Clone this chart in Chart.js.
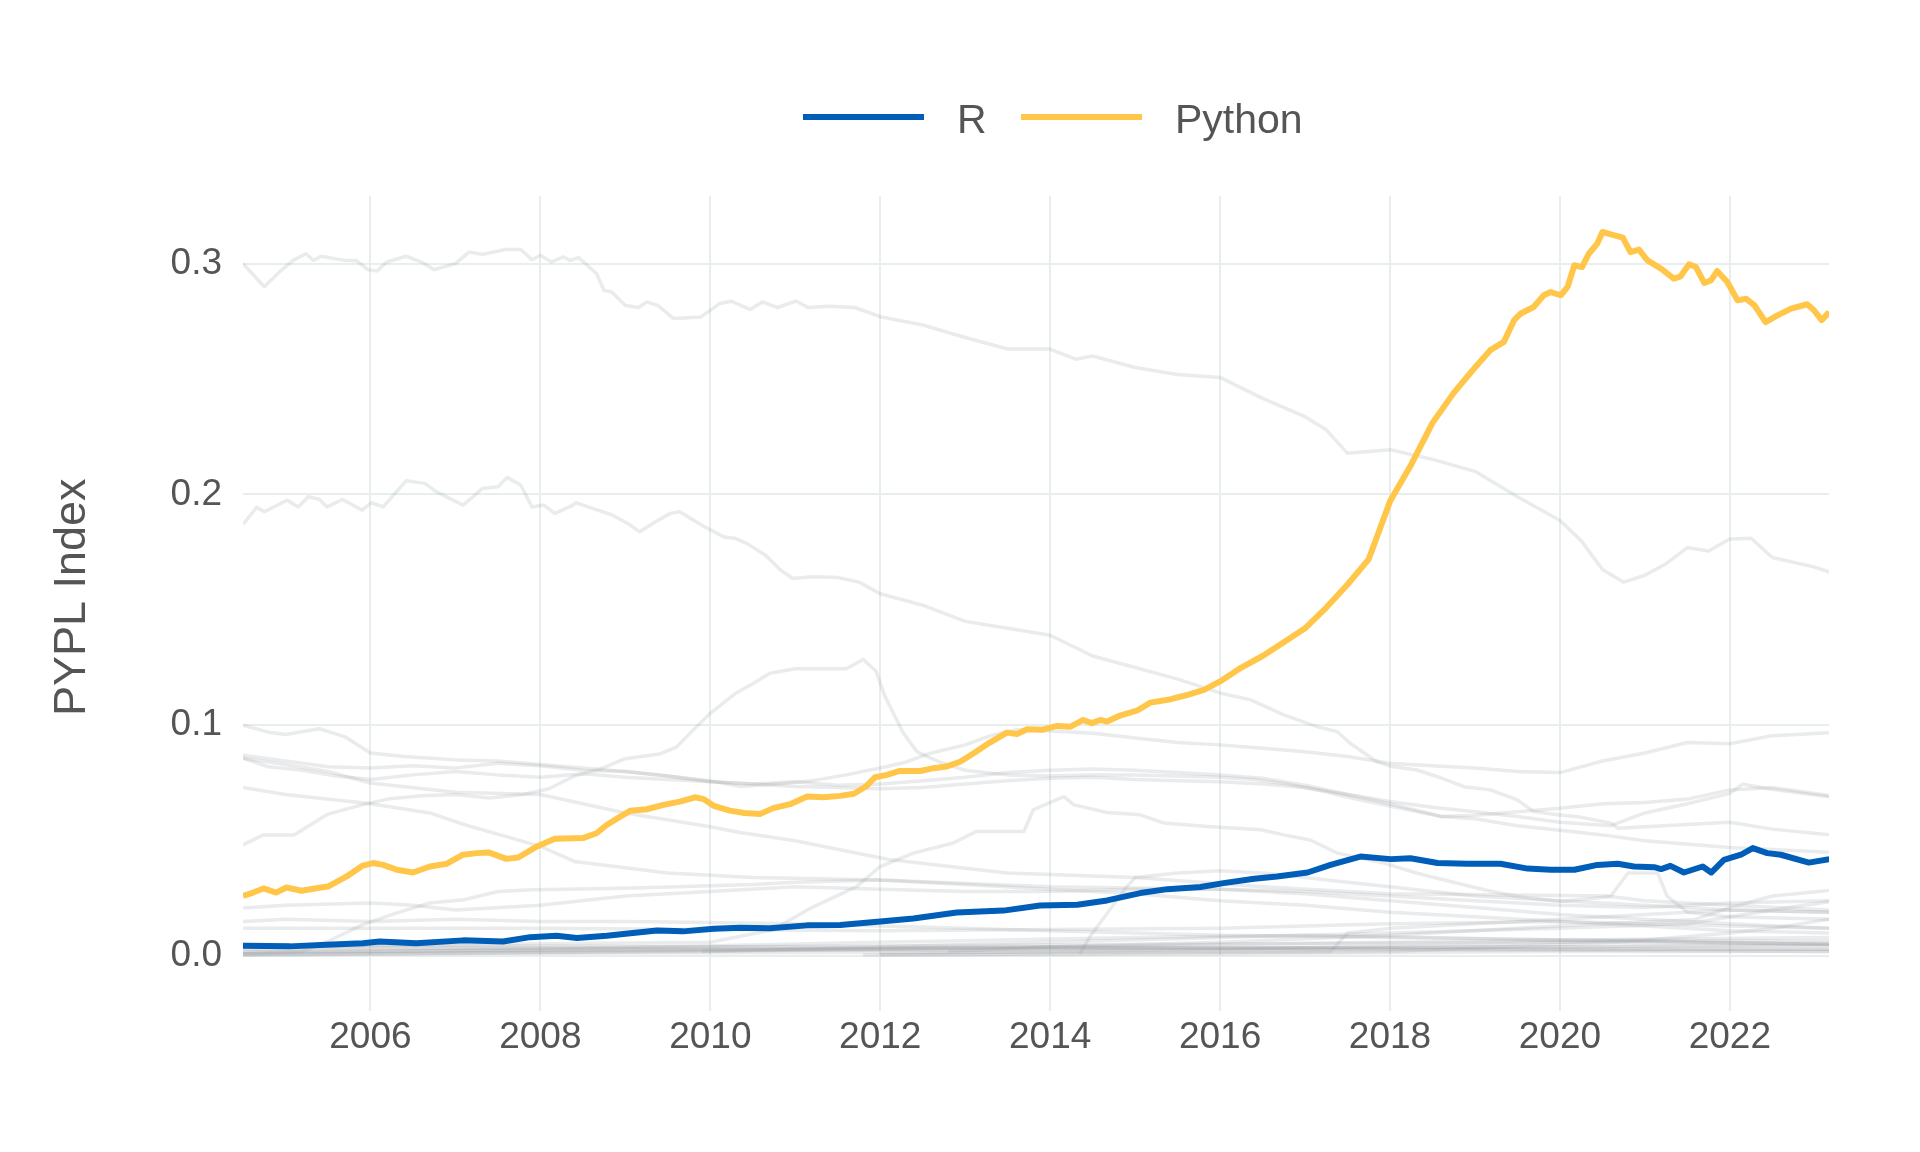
<!DOCTYPE html>
<html>
<head>
<meta charset="utf-8">
<script src="https://cdn.jsdelivr.net/npm/chart.js@4.4.0/dist/chart.umd.min.js"></script>
<style>
  html, body { margin: 0; padding: 0; background: #fff; }
  #wrap { position: relative; width: 1920px; height: 1152px; font-family: "Liberation Sans", Arial, sans-serif; }
  #chart { position: absolute; left: 0; top: 0; }
  .key { position: absolute; top: 114px; height: 6px; width: 121px; }
  .lab { position: absolute; top: 99px; font-size: 41px; line-height: 41px; color: #555; white-space: nowrap; }
</style>
</head>
<body>
<div id="wrap">
  <canvas id="chart" width="1920" height="1152"></canvas>
  <!-- legend, only the two highlighted languages -->
  <div class="key" style="left:803px;background:#005EB8"></div>
  <div class="lab" style="left:957px">R</div>
  <div class="key" style="left:1021px;background:#FFC649"></div>
  <div class="lab" style="left:1175px">Python</div>
</div>
<script>
// axis ticks
const xTicks = [2006, 2008, 2010, 2012, 2014, 2016, 2018, 2020, 2022];
const yTicks = [0.0, 0.1, 0.2, 0.3];

// highlighted series: [year, share]
const python = [[2004.50,.0261],[2004.62,.0275],[2004.74,.0293],[2004.89,.0275],[2005.01,.0297],[2005.19,.0283],[2005.36,.0294],[2005.50,.0301],[2005.72,.0345],[2005.91,.0392],[2006.03,.0403],[2006.15,.0395],[2006.31,.0374],[2006.50,.0362],[2006.70,.0388],[2006.90,.0400],[2007.09,.0439],[2007.25,.0446],[2007.39,.0449],[2007.60,.0421],[2007.74,.0427],[2007.96,.0475],[2008.17,.0508],[2008.50,.0511],[2008.66,.0532],[2008.78,.0568],[2008.94,.0604],[2009.06,.0630],[2009.25,.0636],[2009.45,.0655],[2009.64,.0669],[2009.82,.0688],[2009.92,.0680],[2010.04,.0651],[2010.23,.0630],[2010.40,.0620],[2010.59,.0616],[2010.74,.0641],[2010.94,.0658],[2011.14,.0691],[2011.33,.0688],[2011.53,.0694],[2011.69,.0703],[2011.84,.0737],[2011.94,.0775],[2012.08,.0785],[2012.23,.0802],[2012.47,.0802],[2012.63,.0814],[2012.78,.0821],[2012.94,.0842],[2013.10,.0879],[2013.29,.0925],[2013.49,.0968],[2013.61,.0962],[2013.73,.0983],[2013.90,.0980],[2014.08,.0997],[2014.24,.0994],[2014.39,.1023],[2014.49,.1009],[2014.59,.1023],[2014.67,.1016],[2014.83,.1043],[2015.02,.1063],[2015.18,.1098],[2015.42,.1113],[2015.61,.1131],[2015.81,.1153],[2016.00,.119],[2016.25,.125],[2016.50,.130],[2016.75,.136],[2017.00,.142],[2017.25,.151],[2017.50,.161],[2017.75,.172],[2018.00,.197],[2018.25,.213],[2018.50,.231],[2018.75,.244],[2019.00,.255],[2019.18,.2625],[2019.34,.2661],[2019.46,.2755],[2019.54,.2784],[2019.69,.2812],[2019.81,.2863],[2019.89,.2877],[2020.01,.2863],[2020.09,.2899],[2020.17,.2993],[2020.26,.2985],[2020.34,.3043],[2020.44,.3087],[2020.50,.3137],[2020.60,.3127],[2020.74,.3113],[2020.83,.3050],[2020.93,.3061],[2021.03,.3014],[2021.19,.2978],[2021.34,.2935],[2021.42,.2945],[2021.52,.2997],[2021.60,.2985],[2021.70,.2916],[2021.78,.2928],[2021.85,.2968],[2021.97,.2920],[2022.09,.2841],[2022.19,.2848],[2022.29,.2819],[2022.42,.2747],[2022.56,.2776],[2022.72,.2805],[2022.91,.2824],[2022.99,.2798],[2023.08,.2755],[2023.17,.2790]];

const rLang = [[2004.50,.0045],[2005.05,.0042],[2005.48,.0049],[2005.91,.0056],[2006.11,.0063],[2006.54,.0056],[2007.09,.0068],[2007.56,.0063],[2007.88,.0082],[2008.19,.0088],[2008.43,.0078],[2008.78,.0088],[2009.37,.0111],[2009.68,.0107],[2010.04,.0118],[2010.35,.0123],[2010.70,.0121],[2011.14,.0133],[2011.53,.0135],[2012.00,.0150],[2012.39,.0163],[2012.90,.0189],[2013.45,.0197],[2013.88,.0219],[2014.32,.0222],[2014.67,.0241],[2015.06,.0273],[2015.38,.0290],[2015.77,.0299],[2016.04,.0316],[2016.40,.0335],[2016.67,.0345],[2017.03,.0362],[2017.30,.0395],[2017.65,.0431],[2018.01,.0420],[2018.24,.0424],[2018.56,.0403],[2018.91,.0400],[2019.30,.0400],[2019.62,.0379],[2019.89,.0374],[2020.17,.0374],[2020.44,.0395],[2020.68,.0400],[2020.87,.0388],[2021.11,.0385],[2021.19,.0377],[2021.30,.0391],[2021.46,.0362],[2021.68,.0388],[2021.78,.0362],[2021.93,.0417],[2022.13,.0439],[2022.27,.0468],[2022.44,.0446],[2022.60,.0439],[2022.93,.0405],[2023.17,.0420]];

// background languages
const java = [[2004.50,.300],[2004.75,.290],[2004.93,.2964],[2005.09,.3014],[2005.24,.3043],[2005.33,.3014],[2005.42,.3032],[2005.70,.3014],[2005.83,.3014],[2005.97,.2974],[2006.08,.2968],[2006.19,.3007],[2006.42,.3032],[2006.60,.3007],[2006.75,.2974],[2007.00,.3000],[2007.16,.3050],[2007.32,.3040],[2007.59,.3061],[2007.77,.3061],[2007.90,.3017],[2008.00,.3036],[2008.13,.3007],[2008.27,.3029],[2008.35,.3014],[2008.45,.3026],[2008.66,.2957],[2008.75,.2884],[2008.84,.2877],[2009.00,.2819],[2009.16,.2810],[2009.25,.2834],[2009.38,.2819],[2009.57,.2762],[2009.89,.2769],[2010.11,.2827],[2010.25,.2837],[2010.47,.2801],[2010.61,.2834],[2010.79,.2810],[2011.01,.2838],[2011.15,.2810],[2011.40,.2815],[2011.70,.281],[2012.00,.277],[2012.50,.2734],[2013.00,.268],[2013.50,.263],[2014.00,.263],[2014.30,.2586],[2014.50,.260],[2015.00,.255],[2015.50,.252],[2016.00,.2507],[2016.50,.2416],[2017.00,.2337],[2017.25,.228],[2017.50,.2178],[2018.00,.2194],[2018.50,.2152],[2019.00,.210],[2019.50,.199],[2020.00,.1887],[2020.25,.180],[2020.50,.1675],[2020.75,.162],[2021.00,.165],[2021.25,.170],[2021.50,.177],[2021.75,.1755],[2022.00,.1807],[2022.25,.181],[2022.50,.1727],[2023.00,.1685],[2023.17,.1664]];
const php = [[2004.50,.187],[2004.66,.1944],[2004.75,.1925],[2005.02,.1975],[2005.15,.1946],[2005.27,.1990],[2005.40,.1978],[2005.49,.1946],[2005.67,.1978],[2005.79,.1954],[2005.90,.1932],[2006.01,.1964],[2006.15,.1946],[2006.42,.2059],[2006.64,.2048],[2006.78,.2011],[2006.93,.1983],[2007.09,.1954],[2007.32,.2026],[2007.50,.2033],[2007.61,.2074],[2007.77,.2040],[2007.90,.1946],[2008.04,.1954],[2008.17,.1918],[2008.36,.1949],[2008.42,.1964],[2008.58,.1944],[2008.85,.1910],[2009.03,.1874],[2009.17,.1838],[2009.35,.1881],[2009.53,.1918],[2009.64,.1925],[2009.93,.1860],[2010.16,.1816],[2010.29,.1810],[2010.43,.1788],[2010.65,.1737],[2010.83,.1672],[2010.97,.1636],[2011.20,.1643],[2011.50,.164],[2011.75,.162],[2012.00,.157],[2012.50,.152],[2013.00,.145],[2013.50,.142],[2014.00,.139],[2014.50,.130],[2015.00,.125],[2015.50,.120],[2016.00,.114],[2016.36,.111],[2016.75,.1045],[2017.14,.0994],[2017.38,.0972],[2017.53,.0922],[2017.85,.0841],[2018.01,.0822],[2018.32,.0806],[2018.56,.0777],[2018.87,.0734],[2019.18,.0720],[2019.50,.0677],[2019.69,.0626],[2019.97,.0612],[2020.21,.0604],[2020.60,.0576],[2020.68,.0554],[2021.00,.056],[2021.50,.057],[2022.00,.058],[2022.50,.055],[2023.17,.0525]];
const cpp = [[2004.50,.100],[2004.80,.097],[2005.00,.096],[2005.40,.0985],[2005.70,.095],[2006.00,.088],[2006.40,.0865],[2007.00,.085],[2007.50,.0845],[2008.00,.083],[2008.50,.0815],[2009.00,.080],[2009.50,.078],[2010.00,.0755],[2010.50,.0745],[2011.00,.0735],[2011.50,.073],[2012.00,.0725],[2012.50,.073],[2013.00,.0745],[2013.50,.076],[2014.00,.077],[2014.50,.0775],[2015.00,.0765],[2015.50,.076],[2016.00,.0755],[2016.50,.0745],[2017.00,.073],[2017.50,.070],[2018.00,.067],[2018.50,.0645],[2019.00,.0625],[2019.50,.0605],[2020.00,.058],[2020.60,.0565],[2021.00,.062],[2021.50,.066],[2022.00,.0705],[2022.15,.0745],[2022.45,.0725],[2023.17,.069]];
const csharp = [[2004.50,.087],[2004.80,.0855],[2005.20,.0835],[2005.50,.082],[2006.00,.0815],[2006.50,.0825],[2007.00,.0815],[2007.50,.0835],[2008.00,.0825],[2008.50,.0805],[2009.00,.080],[2009.50,.078],[2010.00,.076],[2010.35,.0735],[2010.80,.0745],[2011.20,.076],[2011.60,.0785],[2012.00,.0815],[2012.30,.084],[2012.60,.088],[2013.00,.0915],[2013.30,.0955],[2013.60,.098],[2014.00,.0975],[2014.50,.0965],[2015.00,.0945],[2015.50,.0925],[2016.00,.0915],[2016.50,.090],[2017.00,.0885],[2017.50,.0865],[2018.00,.0835],[2018.50,.0825],[2019.00,.0815],[2019.50,.080],[2020.00,.0795],[2020.50,.0845],[2021.00,.088],[2021.50,.0925],[2022.00,.092],[2022.50,.0955],[2023.17,.0968]];
const js = [[2004.50,.0857],[2004.80,.082],[2005.20,.0805],[2005.60,.078],[2006.00,.0765],[2006.50,.0785],[2007.00,.080],[2007.50,.0785],[2008.00,.0775],[2008.50,.079],[2009.00,.0775],[2009.50,.0765],[2010.00,.0755],[2010.50,.0745],[2011.00,.0755],[2011.50,.074],[2012.00,.0745],[2012.50,.076],[2013.00,.0775],[2013.50,.0795],[2014.00,.0805],[2014.50,.081],[2015.00,.0805],[2015.50,.0795],[2016.00,.0785],[2016.50,.077],[2017.00,.074],[2017.50,.070],[2018.00,.066],[2018.60,.0605],[2019.00,.061],[2019.50,.0625],[2020.00,.064],[2020.50,.066],[2021.00,.0665],[2021.50,.068],[2022.00,.072],[2022.50,.073],[2023.17,.0695]];
const objc = [[2004.50,.0482],[2004.74,.0525],[2005.10,.0525],[2005.30,.057],[2005.50,.0615],[2005.90,.0655],[2006.20,.068],[2006.60,.0695],[2007.00,.070],[2007.40,.0685],[2007.80,.070],[2008.10,.0725],[2008.40,.078],[2008.70,.081],[2009.00,.0855],[2009.40,.0875],[2009.60,.0905],[2009.80,.098],[2010.00,.1052],[2010.30,.1139],[2010.50,.118],[2010.70,.1225],[2011.00,.1245],[2011.30,.1245],[2011.60,.1245],[2011.80,.1285],[2011.95,.1235],[2012.05,.113],[2012.27,.0967],[2012.43,.0886],[2012.70,.084],[2013.00,.0805],[2013.50,.0785],[2014.00,.078],[2014.50,.0785],[2015.00,.0785],[2015.50,.078],[2016.00,.0775],[2016.40,.0765],[2016.80,.0745],[2017.20,.0715],[2017.60,.068],[2018.00,.065],[2018.60,.0605],[2019.00,.0595],[2019.50,.0565],[2020.00,.0545],[2020.50,.0525],[2021.00,.050],[2022.00,.047],[2023.17,.045]];
const perl = [[2004.50,.073],[2005.00,.070],[2006.00,.066],[2006.70,.062],[2007.10,.057],[2008.00,.0475],[2008.40,.041],[2009.50,.036],[2010.50,.034],[2012.00,.033],[2014.00,.030],[2016.00,.029],[2017.00,.027],[2018.00,.024],[2019.00,.021],[2020.00,.018],[2021.00,.016],[2022.00,.014],[2023.17,.012]];
const vb = [[2004.50,.0857],[2005.00,.083],[2005.50,.080],[2006.00,.075],[2007.00,.071],[2008.00,.070],[2009.00,.062],[2010.00,.056],[2010.35,.0535],[2011.00,.050],[2012.10,.0418],[2013.00,.038],[2013.50,.036],[2015.00,.034],[2016.50,.030],[2018.00,.027],[2020.60,.026],[2020.80,.036],[2021.15,.036],[2021.26,.026],[2021.50,.019],[2022.00,.017],[2023.17,.016]];
const hump = [[2004.50,.004],[2007.00,.005],[2010.00,.006],[2010.74,.0114],[2011.14,.020],[2011.72,.0301],[2012.00,.0388],[2012.39,.0446],[2012.86,.049],[2013.13,.054],[2013.69,.054],[2013.80,.0633],[2014.16,.0691],[2014.28,.0655],[2014.67,.0622],[2015.06,.0612],[2015.34,.0576],[2015.85,.0561],[2016.48,.0547],[2016.75,.0525],[2017.06,.0503],[2017.38,.0446],[2017.93,.0403],[2018.32,.0359],[2018.71,.0323],[2019.11,.0287],[2019.50,.0258],[2020.01,.0236],[2020.60,.0258],[2021.00,.024],[2022.00,.022],[2023.17,.020]];
const ruby = [[2004.50,.001],[2005.20,.002],[2005.48,.006],[2005.91,.0136],[2006.30,.0186],[2006.70,.023],[2007.10,.0244],[2007.50,.028],[2007.90,.0287],[2008.30,.029],[2009.10,.0295],[2010.50,.031],[2011.00,.032],[2012.00,.033],[2013.00,.031],[2014.00,.029],[2015.00,.027],[2016.00,.024],[2017.00,.022],[2018.00,.019],[2019.00,.017],[2020.00,.015],[2021.00,.013],[2022.00,.011],[2023.17,.010]];
const matlab = [[2004.50,.0208],[2005.00,.022],[2006.00,.023],[2006.50,.022],[2007.00,.020],[2008.00,.022],[2009.00,.026],[2010.00,.028],[2011.00,.030],[2012.00,.029],[2013.00,.028],[2014.00,.028],[2015.00,.029],[2016.00,.029],[2017.00,.028],[2018.00,.026],[2019.00,.024],[2020.00,.022],[2021.00,.021],[2022.00,.023],[2023.17,.024]];
const delphi = [[2004.50,.015],[2005.00,.016],[2006.00,.015],[2007.00,.016],[2008.00,.015],[2009.00,.015],[2010.00,.0145],[2011.00,.014],[2012.00,.013],[2013.00,.012],[2014.00,.011],[2015.00,.010],[2016.00,.009],[2018.00,.008],[2020.00,.007],[2023.17,.0065]];
const swift = [[2014.35,.001],[2014.47,.0085],[2014.90,.030],[2015.00,.034],[2015.50,.036],[2016.00,.037],[2016.50,.036],[2017.00,.034],[2017.50,.032],[2018.00,.030],[2018.50,.028],[2019.00,.026],[2019.50,.025],[2020.00,.024],[2021.00,.022],[2022.00,.020],[2023.17,.019]];
const kotlin = [[2004.50,.001],[2017.30,.002],[2017.50,.010],[2018.00,.012],[2019.00,.014],[2020.00,.016],[2021.00,.018],[2022.00,.020],[2023.17,.019]];
const typescript = [[2012.80,.002],[2014.00,.004],[2016.00,.006],[2018.00,.009],[2019.50,.012],[2020.50,.014],[2021.57,.0157],[2022.00,.021],[2022.50,.026],[2023.17,.0284]];
const golang = [[2009.90,.002],[2012.00,.004],[2014.00,.006],[2016.00,.008],[2018.00,.010],[2020.00,.012],[2021.50,.014],[2022.50,.020],[2023.17,.0236]];
const rust = [[2012.00,.001],[2016.00,.003],[2019.00,.005],[2021.00,.007],[2022.00,.010],[2022.50,.012],[2023.17,.016]];
const vba = [[2004.50,.012],[2008.00,.012],[2012.00,.011],[2016.00,.012],[2018.00,.014],[2020.00,.015],[2022.00,.013],[2023.17,.012]];
const scala = [[2004.50,.001],[2008.00,.003],[2012.00,.006],[2015.00,.008],[2017.00,.009],[2020.00,.007],[2023.17,.005]];
const lua = [[2004.50,.003],[2010.00,.004],[2015.00,.005],[2020.00,.006],[2023.17,.0055]];
const haskell = [[2004.50,.002],[2010.00,.003],[2015.00,.0035],[2023.17,.003]];
const ada = [[2004.50,.005],[2010.00,.004],[2016.00,.0035],[2023.17,.0045]];
const groovy = [[2004.50,.0005],[2009.00,.002],[2014.00,.004],[2018.00,.003],[2023.17,.002]];
const cobol = [[2004.50,.004],[2012.00,.0025],[2023.17,.003]];
const abap = [[2004.50,.002],[2012.00,.003],[2020.00,.004],[2023.17,.005]];
const powershell = [[2004.50,.0005],[2010.00,.002],[2016.00,.005],[2020.00,.007],[2023.17,.008]];
const dart = [[2011.80,.0005],[2018.00,.002],[2020.00,.005],[2021.00,.0065],[2023.17,.005]];
const julia = [[2012.00,.0005],[2016.00,.001],[2020.00,.002],[2023.17,.002]];

const others = [java, php, cpp, csharp, js, objc, perl, vb, hump, ruby, matlab, delphi, swift, kotlin,
  typescript, golang, rust, vba, scala, lua, haskell, ada, groovy, cobol, abap, powershell, dart, julia];

const textColor = '#555555';
const gridColor = '#E8EDEE';
const fontFamily = '"Liberation Sans", Arial, sans-serif';
const tickFont = { family: fontFamily, size: 37 };

const toPts = arr => arr.map(([x, y]) => ({ x, y }));

const datasets = [
  { label: 'Python', data: toPts(python), borderColor: '#FFC649', borderWidth: 6, order: 0 },
  { label: 'R', data: toPts(rLang), borderColor: '#005EB8', borderWidth: 6, order: 1 },
  ...others.map(s => ({ label: '', data: toPts(s), borderColor: 'rgba(150,156,162,0.2)', borderWidth: 3.5, order: 2 }))
];

new Chart(document.getElementById('chart'), {
  type: 'line',
  data: { datasets },
  options: {
    responsive: false,
    animation: false,
    events: [],
    layout: { padding: { top: 196, right: 91, bottom: 0, left: 40 } },
    elements: {
      point: { radius: 0 },
      line: { tension: 0, borderJoinStyle: 'round', borderCapStyle: 'butt', fill: false }
    },
    plugins: { legend: { display: false }, tooltip: { enabled: false } },
    scales: {
      x: {
        type: 'linear',
        min: 2004.5,
        max: 2023.1667,
        afterBuildTicks: s => { s.ticks = xTicks.map(v => ({ value: v })); },
        afterFit: s => { s.height = 141; },
        ticks: { font: tickFont, color: textColor, padding: 5, maxRotation: 0, autoSkip: false, callback: v => String(v) },
        grid: { color: gridColor, lineWidth: 2, drawTicks: false },
        border: { display: false }
      },
      y: {
        type: 'linear',
        min: -0.0238,
        max: 0.3293,
        afterBuildTicks: s => { s.ticks = yTicks.map(v => ({ value: v })); },
        afterFit: s => { s.width = 203; },
        ticks: { font: tickFont, color: textColor, padding: 21, callback: v => v.toFixed(1) },
        grid: { color: gridColor, lineWidth: 2, drawTicks: false },
        border: { display: false },
        // leading space nudges the rotated title up to sit where the original does
        title: { display: true, text: ' PYPL Index', color: textColor, font: { family: fontFamily, size: 45 }, padding: { top: 6, bottom: 0 } }
      }
    }
  }
});
</script>
</body>
</html>
